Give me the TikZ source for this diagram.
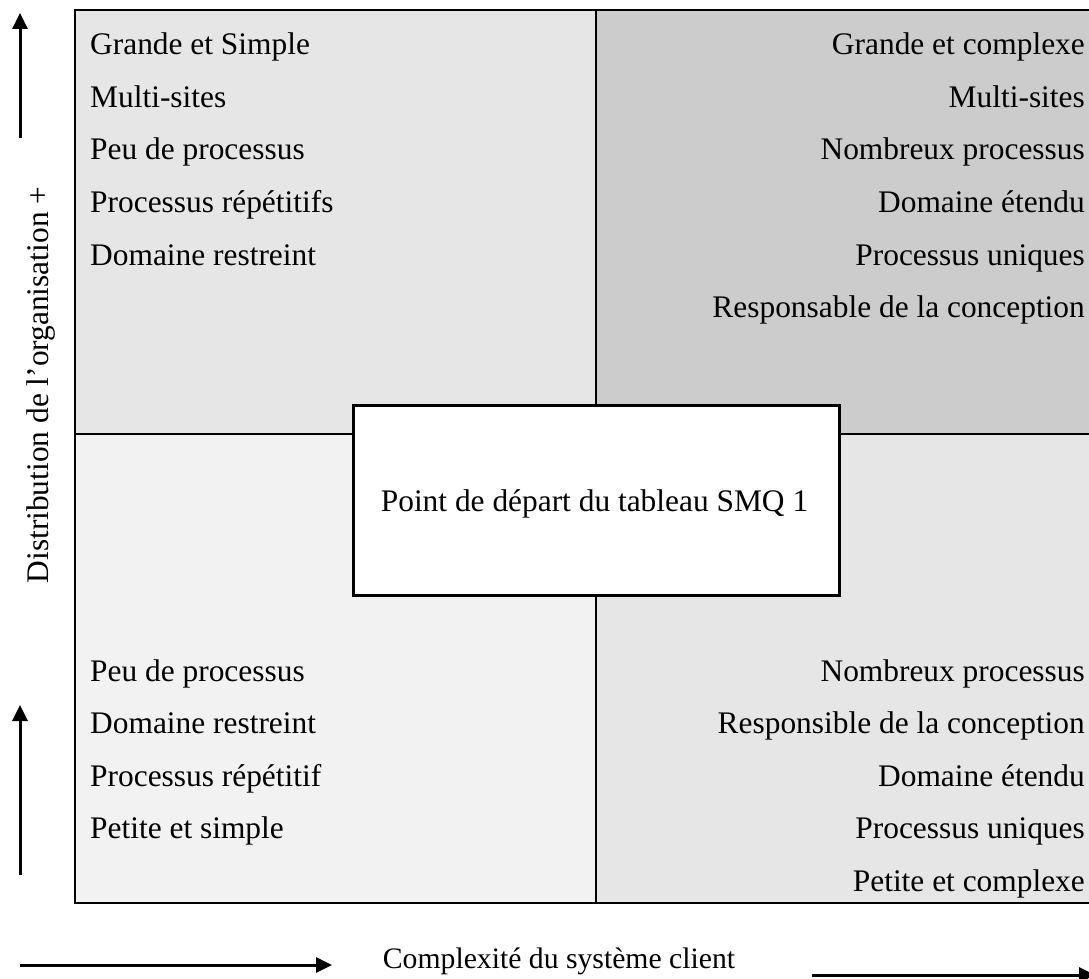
\documentclass[tikz,border=0pt]{standalone}
\usepackage{fontspec}
\setmainfont{Liberation Serif}
\usetikzlibrary{arrows.meta}
\definecolor{qA}{HTML}{E6E6E6}
\definecolor{qB}{HTML}{CCCCCC}
\definecolor{qC}{HTML}{F2F2F2}
\definecolor{qD}{HTML}{E6E6E6}
\begin{document}
\begin{tikzpicture}[x=1pt,y=-1pt,
  lbl/.style={inner sep=0pt,font=\fontsize{31.4}{36}\selectfont},
  ltxt/.style={lbl,anchor=base west},
  rtxt/.style={lbl,anchor=base east},
  axarrow/.style={line width=3pt,-{Triangle[length=16pt,width=15pt]}}]
\useasboundingbox (0,0) rectangle (1089,979);
% quadrants
\fill[qA] (75,10) rectangle (596,434);
\fill[qB] (596,10) rectangle (1095,434);
\fill[qC] (75,434) rectangle (596,903);
\fill[qD] (596,434) rectangle (1095,903);
\draw[line width=2pt] (596,10) -- (596,903);
\draw[line width=2pt] (75,434) -- (1095,434);
\draw[line width=2.6pt] (75,10) rectangle (1095,903);
% centre box
\node[draw,line width=3pt,fill=white,minimum width=486pt,minimum height=190pt,lbl] (centre) at (596,500.5) {};
\node[lbl,anchor=base] (centretxt) at (594.5,511) {Point de départ du tableau SMQ 1};
% top-left
\node[ltxt] (tl1) at (90,55) {Grande et Simple};
\node[ltxt] (tl2) at (90,107.5) {Multi-sites};
\node[ltxt] (tl3) at (90,160) {Peu de processus};
\node[ltxt] (tl4) at (90,212.5) {Processus répétitifs};
\node[ltxt] (tl5) at (90,265) {Domaine restreint};
% top-right
\node[rtxt] (tr1) at (1085,55) {Grande et complexe};
\node[rtxt] (tr2) at (1085,107.5) {Multi-sites};
\node[rtxt] (tr3) at (1085,160) {Nombreux processus};
\node[rtxt] (tr4) at (1085,212.5) {Domaine étendu};
\node[rtxt] (tr5) at (1085,265) {Processus uniques};
\node[rtxt] (tr6) at (1085,317.5) {Responsable de la conception};
% bottom-left
\node[ltxt] (bl1) at (90,681) {Peu de processus};
\node[ltxt] (bl2) at (90,733.5) {Domaine restreint};
\node[ltxt] (bl3) at (90,786) {Processus répétitif};
\node[ltxt] (bl4) at (90,838.5) {Petite et simple};
% bottom-right
\node[rtxt] (br1) at (1085,681) {Nombreux processus};
\node[rtxt] (br2) at (1085,733.5) {Responsible de la conception};
\node[rtxt] (br3) at (1085,786) {Domaine étendu};
\node[rtxt] (br4) at (1085,838.5) {Processus uniques};
\node[rtxt] (br5) at (1085,891) {Petite et complexe};
% axis labels
\node[lbl,rotate=90,anchor=base] (ylab) at (48,385) {Distribution de l’organisation +};
\node[lbl,anchor=base,font=\fontsize{29.7}{34}\selectfont] (xlab) at (559,968) {Complexité du système client};
% arrows
\coordinate (a1s) at (20,138); \coordinate (a1e) at (20,13);
\coordinate (a2s) at (20,875); \coordinate (a2e) at (20,705);
\coordinate (a3s) at (20,965); \coordinate (a3e) at (332,965);
\coordinate (a4s) at (812,975); \coordinate (a4e) at (1095,975);
\draw[axarrow] (a1s) -- (a1e);
\draw[axarrow] (a2s) -- (a2e);
\draw[axarrow] (a3s) -- (a3e);
\draw[axarrow] (a4s) -- (a4e);
\end{tikzpicture}
\end{document}
